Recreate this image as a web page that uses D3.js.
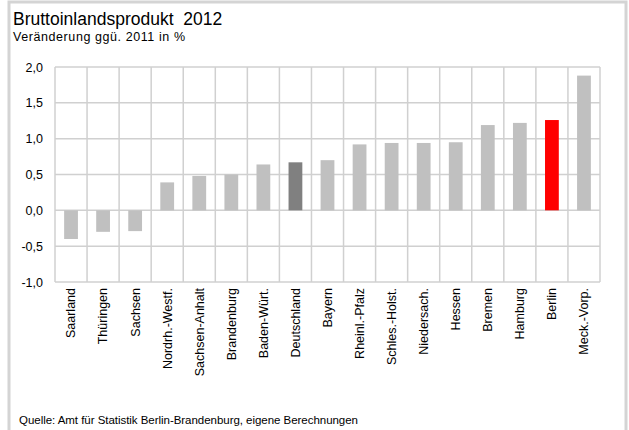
<!DOCTYPE html>
<html>
<head>
<meta charset="utf-8">
<script src="https://cdn.jsdelivr.net/npm/d3@7"></script>
<style>
  body { margin: 0; background: #fff; }
  text { font-family: "Liberation Sans", Arial, sans-serif; fill: #000; white-space: pre; }
</style>
</head>
<body>
<div id="chart-area"></div>
<script>

// data
let regions = ["Saarland", "Thüringen", "Sachsen", "Nordrh.-Westf.", "Sachsen-Anhalt", "Brandenburg",
    "Baden-Würt.", "Deutschland", "Bayern", "Rheinl.-Pfalz", "Schles.-Holst.", "Niedersach.",
    "Hessen", "Bremen", "Hamburg", "Berlin", "Meck.-Vorp."];
let change = [-0.40, -0.30, -0.29, 0.39, 0.48, 0.50, 0.64, 0.67, 0.70, 0.92, 0.94, 0.94,
    0.95, 1.19, 1.22, 1.26, 1.88];
let yTicks = [-1.0, -0.5, 0.0, 0.5, 1.0, 1.5, 2.0];

let W = 629, H = 430;

let svg = d3.select("#chart-area").append("svg")
    .attr("width", W)
    .attr("height", H);

// outer frame
svg.append("rect")
    .attr("x", 9).attr("y", 2)
    .attr("width", 617).attr("height", 460)
    .attr("fill", "none")
    .attr("stroke", "#d4d4d4")
    .attr("stroke-width", 3);

// titles
svg.append("text")
    .attr("x", 13).attr("y", 25)
    .attr("font-size", 17.5)
    .attr("xml:space", "preserve")
    .text("Bruttoinlandsprodukt  2012");

svg.append("text")
    .attr("x", 13).attr("y", 41)
    .attr("font-size", 12.5)
    .attr("textLength", 172)
    .attr("lengthAdjust", "spacing")
    .text("Veränderung ggü. 2011 in %");

svg.append("text")
    .attr("x", 19).attr("y", 424)
    .attr("font-size", 11.5)
    .attr("textLength", 339)
    .attr("lengthAdjust", "spacing")
    .text("Quelle: Amt für Statistik Berlin-Brandenburg, eigene Berechnungen");

// plot area
let plot = {left: 55, top: 67, right: 600, bottom: 282};

let x = d3.scaleBand()
    .domain(regions)
    .range([plot.left, plot.right])
    .paddingInner(0.57)
    .paddingOuter(0.285);

let band = d3.scaleBand()
    .domain(regions)
    .range([plot.left, plot.right]);

let y = d3.scaleLinear()
    .domain([-1, 2])
    .range([plot.bottom, plot.top]);

let gridColor = "#d0d0d0";

// horizontal grid lines
svg.append("g")
    .selectAll("line")
    .data(yTicks)
    .enter().append("line")
    .attr("x1", plot.left).attr("x2", plot.right)
    .attr("y1", d => y(d)).attr("y2", d => y(d))
    .attr("stroke", gridColor)
    .attr("stroke-width", 1.5);

// vertical separators
let seps = regions.map(r => band(r)).concat([plot.right]);
svg.append("g")
    .selectAll("line")
    .data(seps)
    .enter().append("line")
    .attr("x1", d => d).attr("x2", d => d)
    .attr("y1", plot.top).attr("y2", plot.bottom)
    .attr("stroke", gridColor)
    .attr("stroke-width", 1.5);

// bars
svg.append("g")
    .selectAll("rect")
    .data(regions)
    .enter().append("rect")
    .attr("x", d => x(d))
    .attr("width", x.bandwidth())
    .attr("y", (d, i) => y(Math.max(0, change[i])))
    .attr("height", (d, i) => Math.abs(y(change[i]) - y(0)))
    .attr("fill", d => d === "Berlin" ? "#ff0000" : (d === "Deutschland" ? "#808080" : "#c0c0c0"));

// y axis labels
let yAxis = d3.axisLeft(y)
    .tickValues(yTicks)
    .tickFormat(d => d3.format(".1f")(d).replace(".", ",").replace("−", "-"))
    .tickSize(0)
    .tickPadding(12);

let yAxisGroup = svg.append("g")
    .attr("transform", "translate(" + plot.left + ",0)")
    .call(yAxis);
yAxisGroup.select(".domain").remove();
yAxisGroup.selectAll("text")
    .attr("font-family", "Liberation Sans, Arial, sans-serif")
    .attr("font-size", 12.5)
    .attr("fill", "#000");

// x labels (rotated)
svg.append("g")
    .selectAll("text")
    .data(regions)
    .enter().append("text")
    .attr("transform", d => "translate(" + (band(d) + band.bandwidth() / 2) + "," + (plot.bottom + 6) + ") rotate(-90)")
    .attr("text-anchor", "end")
    .attr("dy", "0.35em")
    .attr("font-size", 12.5)
    .text(d => d);

</script>
</body>
</html>
